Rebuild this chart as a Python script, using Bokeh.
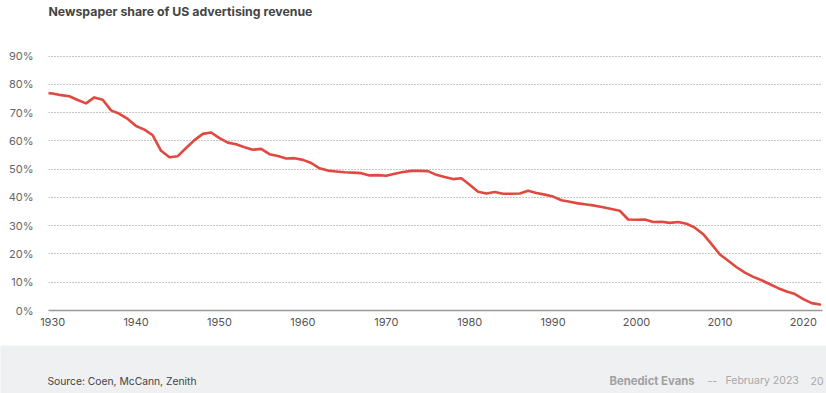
from bokeh.plotting import figure
from bokeh.models import FixedTicker, PrintfTickFormatter, ColumnDataSource, Range1d
from bokeh.layouts import column
from bokeh.core.properties import value
from bokeh.embed import file_html
from bokeh.resources import INLINE

title_text = "Newspaper share of US advertising revenue"
source_text = "Source: Coen, McCann, Zenith"
author_text = "Benedict Evans"
dash_text = "--"
date_text = "February 2023"
page_text = "20"

years = list(range(1929, 2023))
share = [
    77.0, 76.8, 76.2, 75.8, 74.5, 73.3, 75.4, 74.6, 70.8, 69.6,   # 1929-1938
    67.8, 65.3, 64.0, 62.0, 56.5, 54.2, 54.6, 57.5, 60.3, 62.5,   # 1939-1948
    63.0, 61.0, 59.4, 58.8, 57.8, 56.9, 57.2, 55.3, 54.7, 53.8,   # 1949-1958
    53.9, 53.3, 52.2, 50.3, 49.5, 49.2, 48.9, 48.8, 48.6, 47.8,   # 1959-1968
    47.9, 47.7, 48.4, 49.0, 49.4, 49.4, 49.3, 48.0, 47.2, 46.5,   # 1969-1978
    46.8, 44.5, 42.0, 41.4, 41.9, 41.3, 41.3, 41.4, 42.4, 41.6,   # 1979-1988
    41.0, 40.3, 39.0, 38.5, 37.9, 37.5, 37.1, 36.5, 35.9, 35.3,   # 1989-1998
    32.2, 32.1, 32.2, 31.3, 31.4, 31.0, 31.3, 30.7, 29.3, 27.0,   # 1999-2008
    23.5, 19.8, 17.6, 15.3, 13.4, 11.9, 10.7, 9.3, 7.9, 6.7,      # 2009-2018
    5.8, 4.0, 2.6, 2.1,                                           # 2019-2022
]
x_ticks = [1930, 1940, 1950, 1960, 1970, 1980, 1990, 2000, 2010, 2020]
y_ticks = [0, 10, 20, 30, 40, 50, 60, 70, 80, 90]

FONT = "Inter"
W = 826


def blank_fig(height, bg):
    f = figure(width=W, height=height, output_backend="svg", toolbar_location=None,
               x_range=Range1d(0, W), y_range=Range1d(0, height),
               x_axis_location=None, y_axis_location=None,
               min_border=0, min_border_left=0, min_border_right=0,
               min_border_top=0, min_border_bottom=0, frame_align=False)
    f.grid.visible = False
    f.outline_line_color = None
    f.background_fill_color = bg
    f.border_fill_color = bg
    return f


# title strip
t = blank_fig(25, "white")
t.text(x=[48], y=[14], text=[title_text], text_font=value(FONT),
       text_font_size="12.3px", text_font_style="bold", text_color="#444444",
       text_baseline="middle")

# main chart
p = figure(width=W, height=320, output_backend="svg", toolbar_location=None,
           x_range=Range1d(1929.5, 2022.3), y_range=Range1d(0, 92),
           min_border_left=48, min_border_right=4, min_border_top=25,
           min_border_bottom=35, frame_align=False)
p.outline_line_color = None
p.background_fill_color = "white"
p.border_fill_color = "white"

p.xgrid.grid_line_color = None
p.ygrid.ticker = FixedTicker(ticks=y_ticks)
p.ygrid.grid_line_color = "#8c8c8c"
p.ygrid.grid_line_dash = "1 2"
p.ygrid.grid_line_width = 1

xa = p.xaxis[0]
xa.ticker = FixedTicker(ticks=x_ticks)
xa.axis_line_color = "#999999"
xa.axis_line_width = 1.5
xa.major_tick_line_color = None
xa.minor_tick_line_color = None
xa.major_label_standoff = 1
xa.major_label_text_font = FONT
xa.major_label_text_font_size = "11px"
xa.major_label_text_color = "#555555"

ya = p.yaxis[0]
ya.ticker = FixedTicker(ticks=y_ticks)
ya.formatter = PrintfTickFormatter(format="%d%%")
ya.axis_line_color = None
ya.major_tick_line_color = None
ya.minor_tick_line_color = None
ya.major_label_standoff = 9
ya.major_label_text_font = FONT
ya.major_label_text_font_size = "11px"
ya.major_label_text_color = "#666666"

src = ColumnDataSource(dict(year=years, share=share))
p.line("year", "share", source=src, line_color="#e0493f", line_width=2.6,
       line_join="round", line_cap="round")

# footer band
f = blank_fig(48, "#eff0f2")
fy = 13
f.text(x=[47], y=[fy], text=[source_text], text_font=value(FONT),
       text_font_size="10.3px", text_color="#444444", text_baseline="middle")
f.text(x=[609], y=[fy], text=[author_text], text_font=value(FONT),
       text_font_size="11.3px", text_font_style="bold", text_color="#a0a0a0",
       text_baseline="middle")
f.text(x=[707], y=[fy], text=[dash_text], text_font=value(FONT),
       text_font_size="10.5px", text_color="#a8a8a8", text_baseline="middle")
f.text(x=[725], y=[fy], text=[date_text], text_font=value(FONT),
       text_font_size="10.5px", text_color="#a8a8a8", text_baseline="middle")
f.text(x=[810], y=[fy], text=[page_text], text_font=value(FONT),
       text_font_size="10.5px", text_color="#a8a8a8", text_baseline="middle")

layout = column(t, p, f, spacing=0)
open("out.html", "w").write(file_html(layout, INLINE))
